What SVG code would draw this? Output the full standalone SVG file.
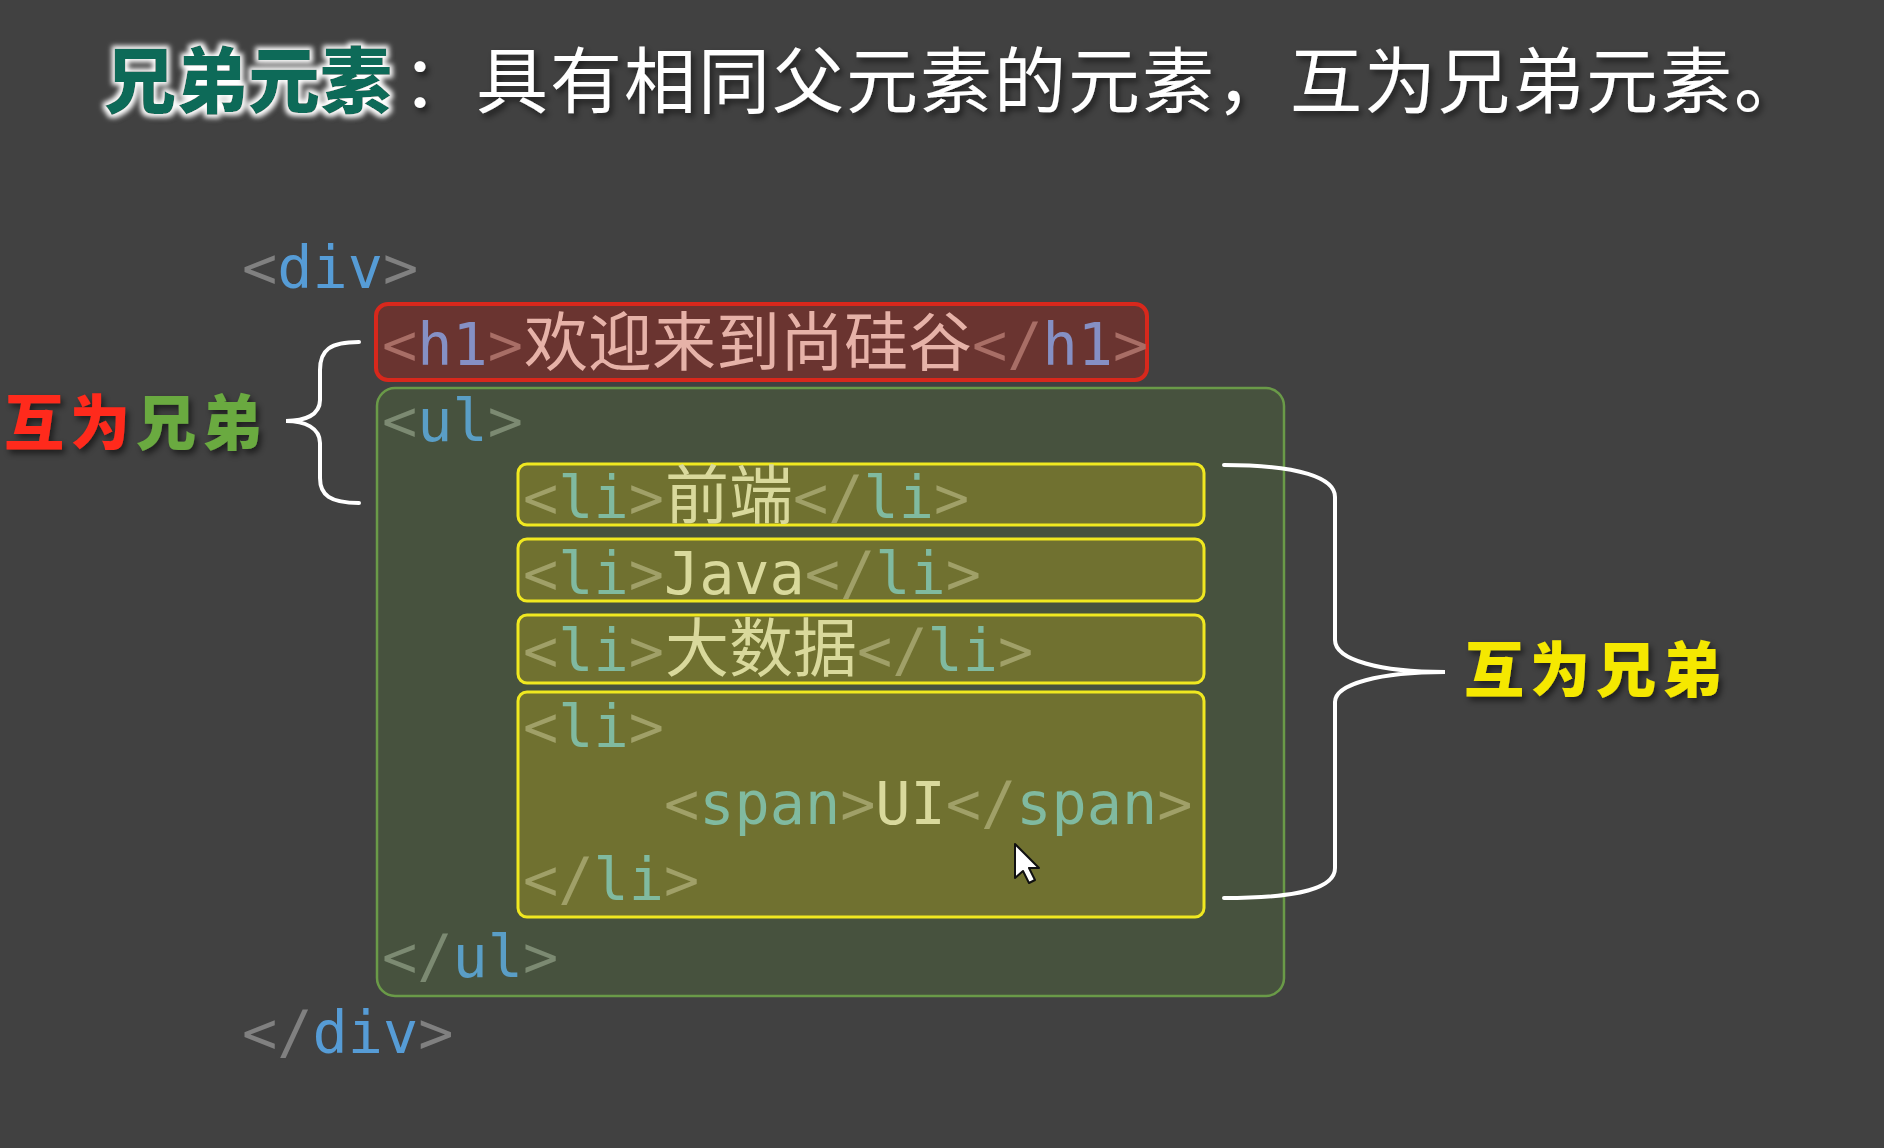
<svg xmlns="http://www.w3.org/2000/svg" width="1884" height="1148" viewBox="0 0 1884 1148">
<defs>
  <filter id="glow" x="-10%" y="-30%" width="120%" height="160%">
    <feMorphology in="SourceAlpha" operator="dilate" radius="3" result="d"/>
    <feGaussianBlur in="d" stdDeviation="2.5" result="b"/>
    <feFlood flood-color="#ffffff"/>
    <feComposite in2="b" operator="in" result="w"/>
    <feOffset in="SourceAlpha" dx="3" dy="4" result="o"/>
    <feGaussianBlur in="o" stdDeviation="3" result="s"/>
    <feFlood flood-color="#000000" flood-opacity="0.6"/>
    <feComposite in2="s" operator="in" result="sh"/>
    <feMerge><feMergeNode in="sh"/><feMergeNode in="w"/><feMergeNode in="SourceGraphic"/></feMerge>
  </filter>
  <filter id="shadow" x="-10%" y="-30%" width="120%" height="160%">
    <feOffset in="SourceAlpha" dx="3" dy="4" result="o"/>
    <feGaussianBlur in="o" stdDeviation="3" result="s"/>
    <feFlood flood-color="#000000" flood-opacity="0.55"/>
    <feComposite in2="s" operator="in" result="sh"/>
    <feMerge><feMergeNode in="sh"/><feMergeNode in="SourceGraphic"/></feMerge>
  </filter>
</defs>
<style>
  .code { font-family: "DejaVu Sans Mono", "Liberation Mono", monospace; font-size: 58.5px; }
  .cjk { font-family: "Noto Sans CJK SC", sans-serif; font-size: 64px; }
  .title { font-family: "Noto Sans CJK SC", sans-serif; font-size: 72px; }
  .label { font-family: "Noto Sans CJK SC", sans-serif; font-size: 60px; font-weight: 900; letter-spacing: 6px; }
  .br { fill: #808080; } .tg { fill: #569cd6; }
  .ulbr { fill: #7c8a72; } .ultg { fill: #5a9ec6; }
  .h1br { fill: #a86e66; } .h1tg { fill: #8590c4; } .h1tx { fill: #e6b2a8; }
  .libr { fill: #a0a068; } .litg { fill: #80baa0; } .litx { fill: #d9d99c; }
  .h1box { fill: #6a3430; stroke: #d8281c; stroke-width: 4; }
  .ulbox { fill: #47523e; stroke: #6a9a48; stroke-width: 2.5; }
  .libox { fill: #707130; stroke: #f0e820; stroke-width: 3; }
  .brace { fill: none; stroke: #ffffff; stroke-width: 4; stroke-linecap: round; }
</style>
<rect x="0" y="0" width="1884" height="1148" fill="#414141"/>

<g id="title">
  <text class="title" x="104" y="107"><tspan fill="#0e6b58" font-weight="900" filter="url(#glow)">兄弟元素</tspan></text>
  <text class="title" x="402" y="107" fill="#ffffff" letter-spacing="2" filter="url(#shadow)">：具有相同父元素的元素，互为兄弟元素。</text>
</g>

<g id="div-open">
  <text class="code" x="242" y="288"><tspan class="br">&lt;</tspan><tspan class="tg">div</tspan><tspan class="br">&gt;</tspan></text>
</g>

<g id="ul">
  <rect class="ulbox" x="377" y="388" width="907" height="608" rx="18"/>
  <text class="code" x="382" y="441"><tspan class="ulbr">&lt;</tspan><tspan class="ultg">ul</tspan><tspan class="ulbr">&gt;</tspan></text>
  <text class="code" x="382" y="976.5"><tspan class="ulbr">&lt;/</tspan><tspan class="ultg">ul</tspan><tspan class="ulbr">&gt;</tspan></text>
</g>

<g id="h1">
  <rect class="h1box" x="376" y="304" width="771" height="76" rx="12"/>
  <text class="code" x="382" y="364.5"><tspan class="h1br">&lt;</tspan><tspan class="h1tg">h1</tspan><tspan class="h1br">&gt;</tspan></text>
  <text class="cjk h1tx" x="524" y="364.5">欢迎来到尚硅谷</text>
  <text class="code" x="972" y="364.5"><tspan class="h1br">&lt;/</tspan><tspan class="h1tg">h1</tspan><tspan class="h1br">&gt;</tspan></text>
</g>

<g id="li-1">
  <rect class="libox" x="518" y="464" width="686" height="61" rx="9"/>
  <text class="code" x="523" y="517.5"><tspan class="libr">&lt;</tspan><tspan class="litg">li</tspan><tspan class="libr">&gt;</tspan></text>
  <text class="cjk litx" x="665" y="517.5">前端</text>
  <text class="code" x="793" y="517.5"><tspan class="libr">&lt;/</tspan><tspan class="litg">li</tspan><tspan class="libr">&gt;</tspan></text>
</g>

<g id="li-2">
  <rect class="libox" x="518" y="539" width="686" height="62" rx="9"/>
  <text class="code" x="523" y="594"><tspan class="libr">&lt;</tspan><tspan class="litg">li</tspan><tspan class="libr">&gt;</tspan><tspan class="litx">Java</tspan><tspan class="libr">&lt;/</tspan><tspan class="litg">li</tspan><tspan class="libr">&gt;</tspan></text>
</g>

<g id="li-3">
  <rect class="libox" x="518" y="615" width="686" height="68" rx="9"/>
  <text class="code" x="523" y="670.5"><tspan class="libr">&lt;</tspan><tspan class="litg">li</tspan><tspan class="libr">&gt;</tspan></text>
  <text class="cjk litx" x="665" y="670.5">大数据</text>
  <text class="code" x="857" y="670.5"><tspan class="libr">&lt;/</tspan><tspan class="litg">li</tspan><tspan class="libr">&gt;</tspan></text>
</g>

<g id="li-4">
  <rect class="libox" x="518" y="692" width="686" height="225" rx="9"/>
  <text class="code" x="523" y="747"><tspan class="libr">&lt;</tspan><tspan class="litg">li</tspan><tspan class="libr">&gt;</tspan></text>
  <text class="code" x="664" y="823.5"><tspan class="libr">&lt;</tspan><tspan class="litg">span</tspan><tspan class="libr">&gt;</tspan><tspan class="litx">UI</tspan><tspan class="libr">&lt;/</tspan><tspan class="litg">span</tspan><tspan class="libr">&gt;</tspan></text>
  <text class="code" x="523" y="900"><tspan class="libr">&lt;/</tspan><tspan class="litg">li</tspan><tspan class="libr">&gt;</tspan></text>
</g>

<g id="div-close">
  <text class="code" x="242" y="1053"><tspan class="br">&lt;/</tspan><tspan class="tg">div</tspan><tspan class="br">&gt;</tspan></text>
</g>

<g id="connectors">
  <path class="brace" d="M359,342 C330,342 320,350 320,370 L320,400 C320,415 305,421 286,421 C305,421 320,428 320,443 L320,478 C320,495 330,503 359,503"/>
  <path class="brace" d="M1224,465 C1300,465 1335,478 1335,497 L1335,640 C1335,660 1380,672 1445,672 C1380,672 1335,684 1335,702 L1335,868 C1335,888 1300,898 1224,898"/>
</g>

<g id="label-left">
  <text class="label" x="4" y="445" filter="url(#shadow)"><tspan fill="#ff2a1a">互为</tspan><tspan fill="#6aaa40">兄弟</tspan></text>
</g>

<g id="label-right">
  <text class="label" x="1464" y="692" fill="#f5e800" filter="url(#shadow)">互为兄弟</text>
</g>

<g id="cursor">
  <polygon points="1015,844 1015,878 1023,871 1029,883 1035,880 1029,868 1039,868" fill="#ffffff" stroke="#111111" stroke-width="2" stroke-linejoin="round"/>
</g>
</svg>
